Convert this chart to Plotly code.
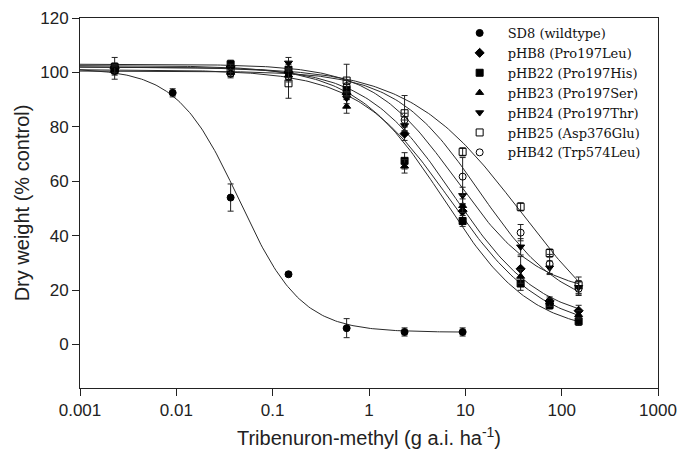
import numpy as np
import plotly.graph_objects as go

# doses (g a.i. ha-1)
dose_sd8 = [0.00229, 0.00916, 0.0366, 0.146, 0.586, 2.34, 9.375]
dose_mut = [0.00229, 0.0366, 0.146, 0.586, 2.34, 9.375, 37.5, 75, 150]

names = ["SD8 (wildtype)", "pHB8 (Pro197Leu)", "pHB22 (Pro197His)", "pHB23 (Pro197Ser)",
         "pHB24 (Pro197Thr)", "pHB25 (Asp376Glu)", "pHB42 (Trp574Leu)"]
symbols = ["circle", "diamond", "square", "triangle-up", "triangle-down", "square-open", "circle-open"]

# dry weight, % of control
sd8 = [101.5, 92.5, 54.0, 25.8, 6.0, 4.6, 4.6]
phb8 = [101.5, 102.0, 100.0, 92.0, 77.5, 49.0, 27.8, 16.0, 12.4]
phb22 = [102.0, 103.0, 101.0, 93.5, 67.5, 45.4, 22.4, 14.5, 8.5]
phb23 = [101.0, 100.0, 99.0, 87.5, 65.5, 51.0, 25.0, 15.5, 10.9]
phb24 = [101.5, 101.5, 103.5, 90.5, 80.5, 54.8, 35.9, 28.2, 21.0]
phb25 = [101.0, 100.5, 96.0, 97.0, 85.0, 70.8, 50.6, 33.6, 21.8]
phb42 = [100.5, 99.5, 98.5, 95.0, 82.5, 61.7, 41.1, 29.6, 20.5]

# standard errors
err_sd8 = [4.0, 1.5, 5.0, 0.8, 3.5, 1.5, 1.5]
err_phb8 = [1.5, 1.5, 2.0, 2.0, 2.5, 2.5, 4.5, 1.5, 2.0]
err_phb22 = [1.5, 1.5, 2.0, 2.0, 3.0, 2.0, 2.5, 1.5, 1.5]
err_phb23 = [1.5, 1.5, 2.0, 2.5, 2.5, 2.5, 2.5, 1.5, 1.5]
err_phb24 = [1.5, 1.5, 2.0, 2.0, 2.0, 3.0, 3.0, 2.5, 2.5]
err_phb25 = [1.5, 1.5, 5.5, 6.0, 6.5, 1.5, 1.5, 1.5, 3.0]
err_phb42 = [1.5, 1.5, 2.0, 2.0, 2.5, 7.0, 3.0, 3.5, 2.5]

# fitted log-logistic parameters: upper, lower, ED50, slope
upper = [101.5, 102.0, 102.5, 101.0, 103.0, 102.0, 100.5]
lower = [4.5, 8.0, 4.0, 5.0, 18.0, -5.0, 12.0]
ed50 = [0.045, 7.5, 6.0, 7.0, 8.0, 38.0, 14.0]
slope = [1.35, 0.95, 0.95, 0.9, 1.0, 0.75, 1.0]

values = [sd8, phb8, phb22, phb23, phb24, phb25, phb42]
errors = [err_sd8, err_phb8, err_phb22, err_phb23, err_phb24, err_phb25, err_phb42]
doses = [dose_sd8] + [dose_mut] * 6

fig = go.Figure()

# fitted curves
for i in range(7):
    xs = np.logspace(-3, np.log10(doses[i][-1]), 200)
    ys = lower[i] + (upper[i] - lower[i]) / (1 + (xs / ed50[i]) ** slope[i])
    fig.add_trace(go.Scatter(x=xs, y=ys, mode="lines", showlegend=False, hoverinfo="skip",
                             line=dict(color="#2a2a2a", width=1)))

# data points
for i in range(7):
    fig.add_trace(go.Scatter(
        x=doses[i], y=values[i], mode="markers", name=names[i],
        marker=dict(symbol=symbols[i], size=7, color="black", line=dict(color="black", width=1)),
        error_y=dict(type="data", array=errors[i], color="#222222", thickness=1, width=3),
    ))

# page body adds an 8px margin, so the figure is 8px smaller on each side
fig.update_layout(
    width=677, height=465,
    paper_bgcolor="white", plot_bgcolor="white",
    margin=dict(l=72, r=27, t=10, b=85),
    font=dict(family="Liberation Sans, Arial", size=17, color="#222222"),
    legend=dict(x=0.643, y=1.0, xanchor="left", yanchor="top", bgcolor="rgba(0,0,0,0)",
                font=dict(family="DejaVu Serif", size=13, color="#111111"),
                itemwidth=46, tracegroupgap=0),
)
fig.update_xaxes(
    type="log", range=[-3, 3], tickvals=[0.001, 0.01, 0.1, 1, 10, 100, 1000],
    ticktext=["0.001", "0.01", "0.1", "1", "10", "100", "1000"],
    showgrid=False, zeroline=False, showline=True, linecolor="#222222", linewidth=1, mirror=True,
    ticks="outside", ticklen=7, tickcolor="#222222", automargin=False, ticklabeloverflow="allow",
    title=dict(text="Tribenuron-methyl (g a.i. ha<sup>-1</sup>)", standoff=11),
)
fig.update_yaxes(
    range=[-16, 120], tickvals=[0, 20, 40, 60, 80, 100, 120],
    showgrid=False, zeroline=False, showline=True, linecolor="#222222", linewidth=1, mirror=True,
    ticks="outside", ticklen=7, tickcolor="#222222", automargin=False, ticklabeloverflow="allow",
    title=dict(text="Dry weight (% control)", standoff=5),
)

fig.write_html("out.html")
